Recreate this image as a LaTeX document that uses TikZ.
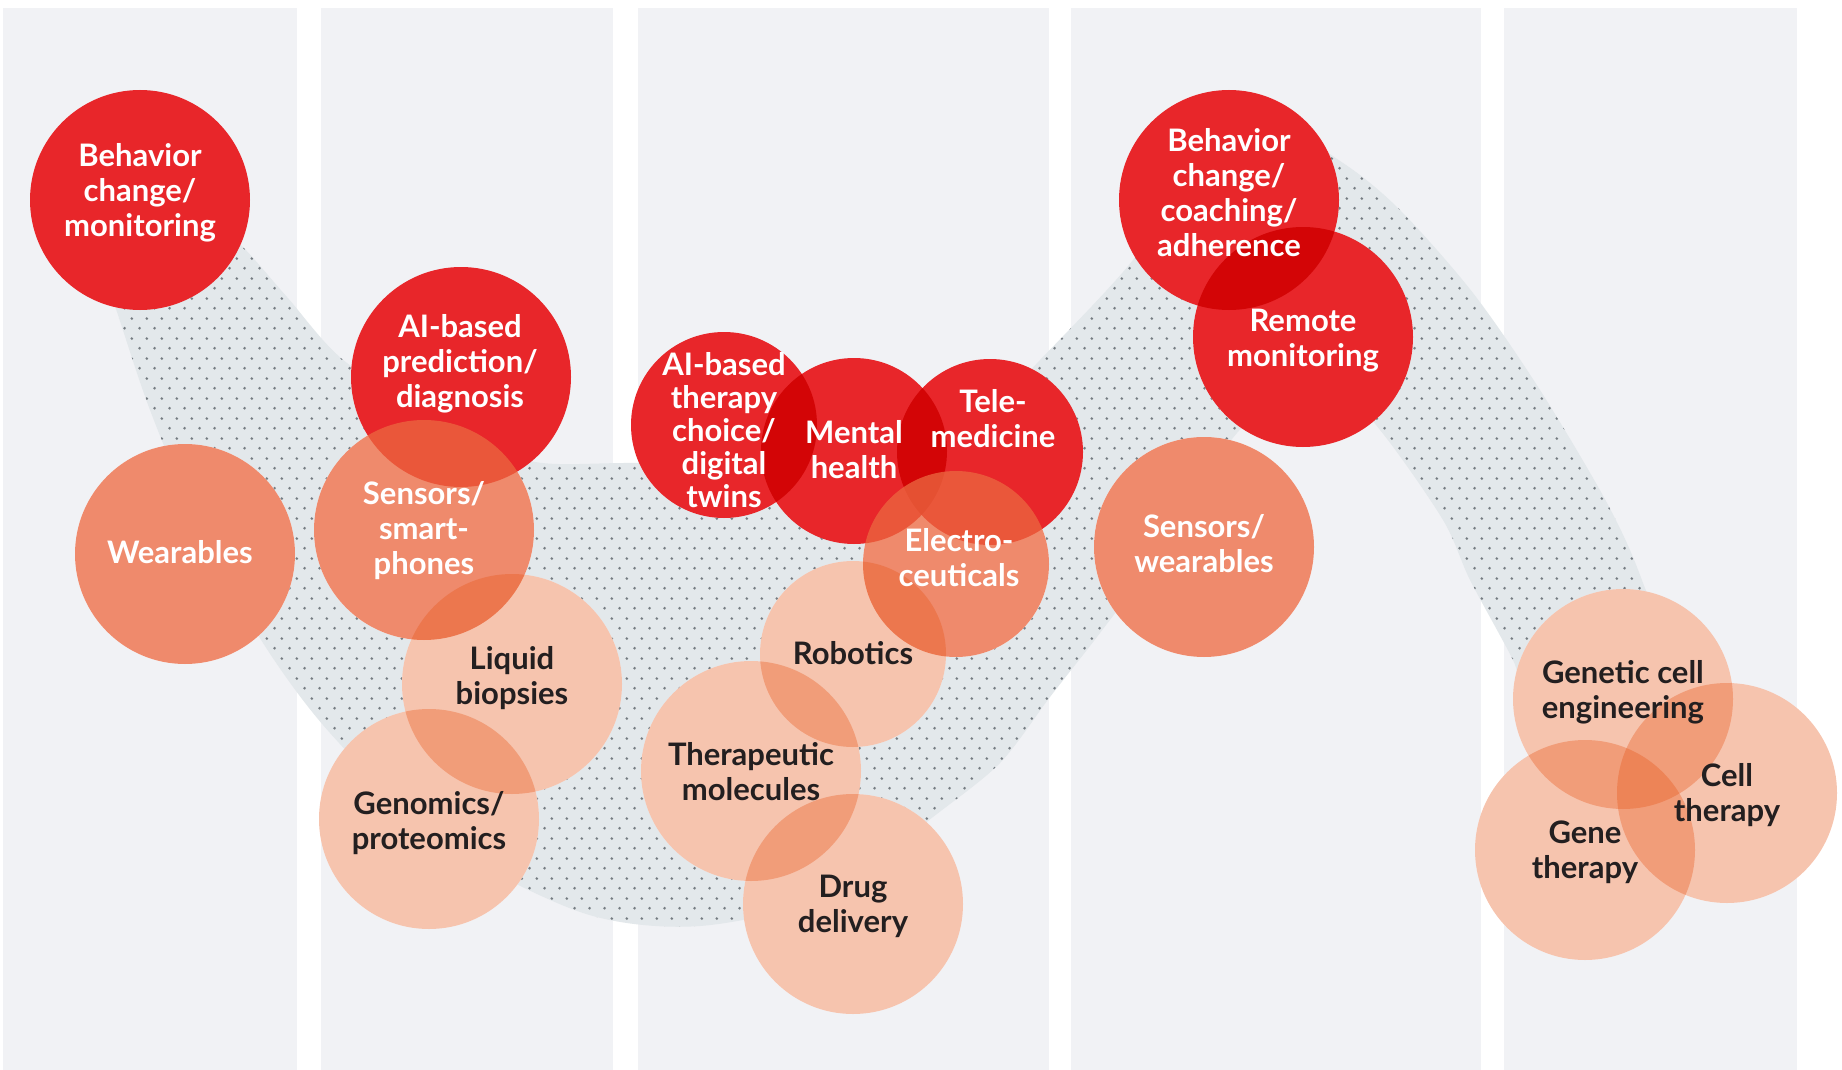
\documentclass[tikz,border=0pt]{standalone}
\usepackage{fontspec}
\setmainfont{Lato}
\usetikzlibrary{patterns.meta}

\definecolor{stripeC}{HTML}{F1F2F5}
\definecolor{bandC}{HTML}{E3E8EB}
\definecolor{dotC}{HTML}{767D83}
\definecolor{hotRed}{HTML}{E8262A}
\definecolor{salmonC}{RGB}{235,103,64}
\definecolor{peachC}{RGB}{232,86,24}
\definecolor{inkC}{HTML}{231F20}

\newcommand{\circfont}{\fontsize{15.5}{17.5}\selectfont\bfseries}

\pgfdeclarelayer{back}
\pgfdeclarelayer{under}
\pgfsetlayers{back,under,main}

\tikzdeclarepattern{
    name=bandDots,
    type=colored,
    bottom left={(0pt,0pt)},
    top right={(7.6pt,9.8pt)},
    tile size={(7.6pt,9.8pt)},
    code={
        \fill[dotC] (1.9pt,2.45pt) circle[radius=0.75pt];
        \fill[dotC] (5.7pt,7.35pt) circle[radius=0.75pt];
    }
}

\tikzset{
    disk/.style={circle, inner sep=0pt, minimum size=110pt},
    smalldisk/.style={disk, minimum size=93pt},
    redD/.style={fill=hotRed},
    midD/.style={fill=salmonC, fill opacity=0.77},
    lightD/.style={fill=peachC, fill opacity=0.35},
    wtxt/.style={text=white, font=\circfont, align=center, inner sep=0pt},
    dtxt/.style={text=inkC, font=\circfont, align=center, inner sep=0pt}
}

\begin{document}
\begin{tikzpicture}[x=0.5pt, y=-0.5pt]
    \useasboundingbox (0,0) rectangle (1842,1070);

    \begin{pgfonlayer}{back}
        \fill[white] (0,0) rectangle (1842,1070);
        \foreach \a/\b in {3/297, 321/613, 638/1049, 1071/1481, 1504/1797}
            \fill[stripeC] (\a,8) rectangle (\b,1070);
        \fill[bandC, postaction={pattern=bandDots}] plot[smooth cycle, tension=0.5] coordinates {
            (90,232) (117,312) (150,410) (200,530) (263,643) (330,733)
            (440,840) (583,913) (700,926) (830,895) (933,817) (1000,763)
            (1050,697) (1100,633) (1150,565) (1237,433) (1320,370)
            (1380,430) (1443,520) (1470,580) (1513,660) (1545,730)
            (1690,730) (1643,583) (1607,503) (1540,390) (1473,293)
            (1400,210) (1343,163) (1270,125) (1190,170) (1133,260)
            (1040,360) (960,440) (860,465) (640,463) (530,461)
            (450,420) (347,363) (287,297) (241,245) (190,200)};
    \end{pgfonlayer}

    \begin{scope}[blend mode=multiply]
        \node[disk, redD] (bcm) at (140,200) {};
        \node[disk, redD] (aipred) at (461,377) {};
        \node[smalldisk, redD] (aither) at (724,425) {};
        \node[smalldisk, redD] (mental) at (854,451) {};
        \node[smalldisk, redD] (tele) at (990,452) {};
        \node[disk, redD] (bcca) at (1229,200) {};
        \node[disk, redD] (remote) at (1303,337) {};
    \end{scope}

    \node[disk, midD] (wear) at (185,554) {};
    \node[disk, midD] (smart) at (424,530) {};
    \node[smalldisk, midD] (electro) at (956,564) {};
    \node[disk, midD] (senswear) at (1204,547) {};

    \node[disk, lightD] (liquid) at (512,684) {};
    \node[disk, lightD] (genomics) at (429,819) {};
    \node[smalldisk, lightD] (robotics) at (853,654) {};
    \node[disk, lightD] (thera) at (751,771) {};
    \node[disk, lightD] (drug) at (853,904) {};
    \node[disk, lightD] (gencell) at (1623,699) {};
    \node[disk, lightD] (celltx) at (1727,793) {};
    \node[disk, lightD] (genetx) at (1585,850) {};

    \begin{pgfonlayer}{under}
        \foreach \n in {bcm,aipred,bcca,remote,wear,smart,senswear,liquid,genomics,thera,drug,gencell,celltx,genetx}
            \fill[white] (\n) circle[radius=110];
        \foreach \n in {aither,mental,tele,electro,robotics}
            \fill[white] (\n) circle[radius=93];
    \end{pgfonlayer}

    \node[wtxt] (bcm-t) at (140,193) {Behavior\\change/\\monitoring};
    \node[wtxt] (aipred-t) at (460,364) {AI-based\\prediction/\\diagnosis};
    \node[wtxt, font=\fontsize{15.5}{16.5}\selectfont\bfseries] (aither-t) at (724,430) {AI-based\\therapy\\choice/\\digital\\twins};
    \node[wtxt] (mental-t) at (854,450) {Mental\\health};
    \node[wtxt] (tele-t) at (993,419) {Tele-\\medicine};
    \node[wtxt] (bcca-t) at (1229,193) {Behavior\\change/\\coaching/\\adherence};
    \node[wtxt] (remote-t) at (1303,341) {Remote\\monitoring};
    \node[wtxt] (wear-t) at (180,552) {Wearables};
    \node[wtxt] (smart-t) at (424,531) {Sensors/\\smart-\\phones};
    \node[wtxt] (electro-t) at (959,558) {Electro-\\ceuticals};
    \node[wtxt] (senswear-t) at (1204,544) {Sensors/\\wearables};
    \node[dtxt] (liquid-t) at (512,678) {Liquid\\biopsies};
    \node[dtxt] (genomics-t) at (429,823) {Genomics/\\proteomics};
    \node[dtxt] (robotics-t) at (853,653) {Robotics};
    \node[dtxt] (thera-t) at (751,772) {Therapeutic\\molecules};
    \node[dtxt] (drug-t) at (853,906) {Drug\\delivery};
    \node[dtxt] (gencell-t) at (1623,692) {Genetic cell\\engineering};
    \node[dtxt] (celltx-t) at (1727,795) {Cell\\therapy};
    \node[dtxt] (genetx-t) at (1585,852) {Gene\\therapy};
\end{tikzpicture}
\end{document}
